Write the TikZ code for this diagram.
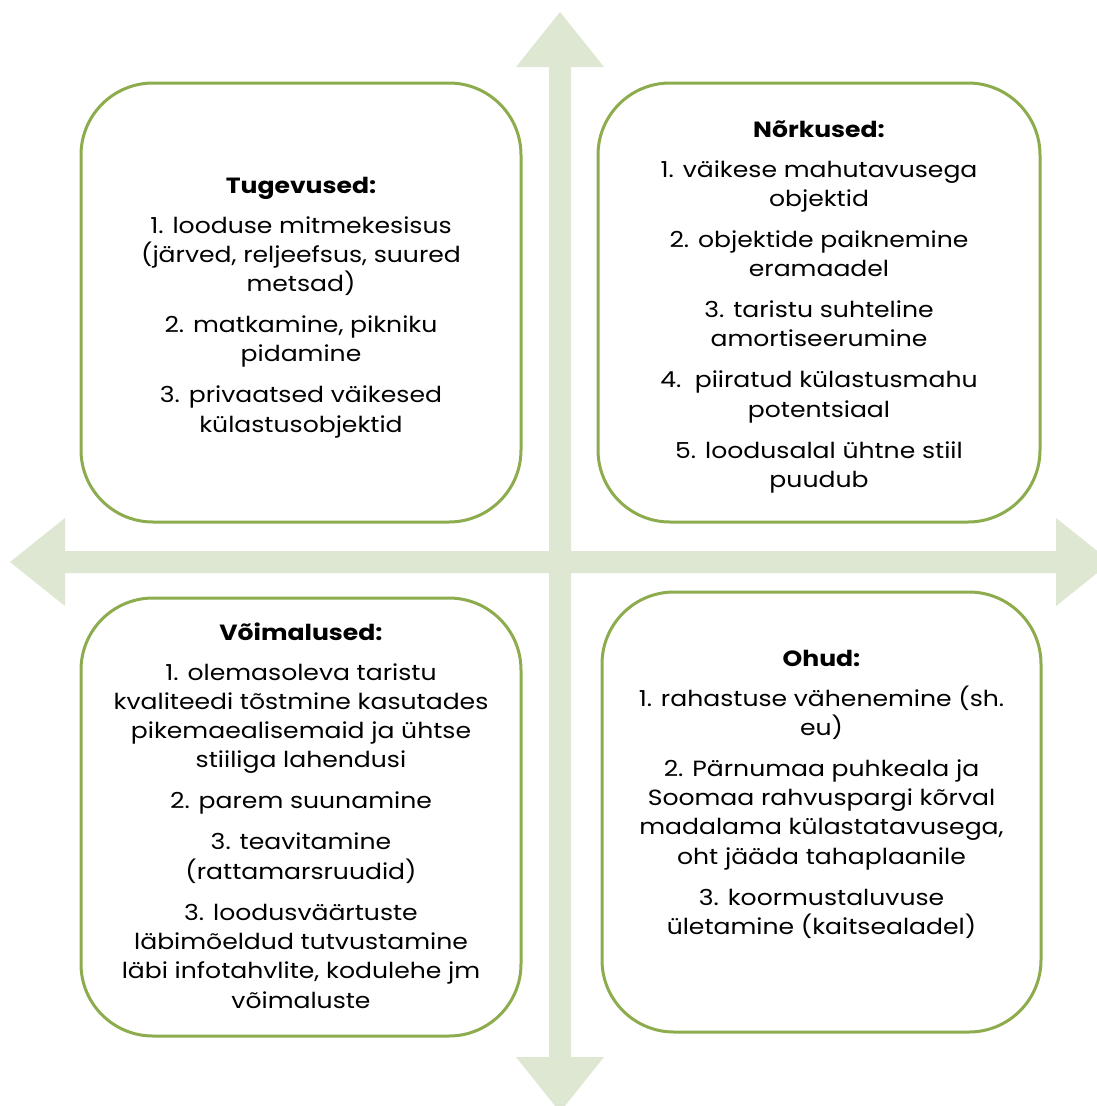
\documentclass[tikz,border=0pt]{standalone}
\usepackage{fontspec}
\setmainfont{Poppins}[FakeStretch=1.14]
\definecolor{arrowgreen}{RGB}{222,231,209}
\definecolor{boxgreen}{RGB}{140,172,78}
\begin{document}
\begin{tikzpicture}[x=1pt,y=-1pt,
  swotbox/.style={draw=boxgreen,line width=3pt,fill=white,rounded corners=72pt,inner sep=0pt},
  swottext/.style={anchor=base,inner sep=0pt,font=\fontsize{22}{29.3}\selectfont}]
\useasboundingbox (0,0) rectangle (1097,1106);
\clip (0,0) rectangle (1097,1106);
\fill[arrowgreen] (560,12) -- (604,67) -- (571,67) -- (571,551) -- (1056,551) -- (1056,518) -- (1111,562) -- (1056,606) -- (1056,573) -- (571,573) -- (571,1057) -- (604,1057) -- (560,1112) -- (516,1057) -- (549,1057) -- (549,573) -- (65,573) -- (65,606) -- (10,562) -- (65,518) -- (65,551) -- (549,551) -- (549,67) -- (516,67) -- cycle;
\node[swotbox,minimum width=440pt,minimum height=439pt] (tlbox) at (301,302.5) {};
\node[swotbox,minimum width=442pt,minimum height=439pt] (trbox) at (819,302.5) {};
\node[swotbox,minimum width=440pt,minimum height=438pt] (blbox) at (301,817) {};
\node[swotbox,minimum width=439pt,minimum height=440pt] (brbox) at (821.5,812) {};
\node[swottext] (tltext) at (301,193) {\begin{tabular}[t]{@{}c@{}}\textbf{Tugevused:}\\[10.7pt]
1. looduse mitmekesisus\\ (järved, reljeefsus, suured\\ metsad)\\[11.7pt]
2. matkamine, pikniku\\ pidamine\\[11.7pt]
3. privaatsed väikesed\\ külastusobjektid\end{tabular}};
\node[swottext] (trtext) at (819,137) {\begin{tabular}[t]{@{}c@{}}\textbf{Nõrkused:}\\[10.7pt]
1. väikese mahutavusega\\ objektid\\[11.7pt]
2. objektide paiknemine\\ eramaadel\\[11.7pt]
3. taristu suhteline\\ amortiseerumine\\[11.7pt]
4.\ \ piiratud külastusmahu\\ potentsiaal\\[11.7pt]
5. loodusalal ühtne stiil\\ puudub\end{tabular}};
\node[swottext] (bltext) at (301,640) {\begin{tabular}[t]{@{}c@{}}\textbf{Võimalused:}\\[10.7pt]
1. olemasoleva taristu\\ kvaliteedi tõstmine kasutades\\ pikemaealisemaid ja ühtse\\ stiiliga lahendusi\\[11.7pt]
2. parem suunamine\\[11.7pt]
3. teavitamine\\ (rattamarsruudid)\\[11.7pt]
3. loodusväärtuste\\ läbimõeldud tutvustamine\\ läbi infotahvlite, kodulehe jm\\ võimaluste\end{tabular}};
\node[swottext] (brtext) at (821.5,666) {\begin{tabular}[t]{@{}c@{}}\textbf{Ohud:}\\[10.7pt]
1. rahastuse vähenemine (sh.\\ eu)\\[11.7pt]
2. Pärnumaa puhkeala ja\\ Soomaa rahvuspargi kõrval\\ madalama külastatavusega,\\ oht jääda tahaplaanile\\[11.7pt]
3. koormustaluvuse\\ ületamine (kaitsealadel)\end{tabular}};
\end{tikzpicture}
\end{document}
